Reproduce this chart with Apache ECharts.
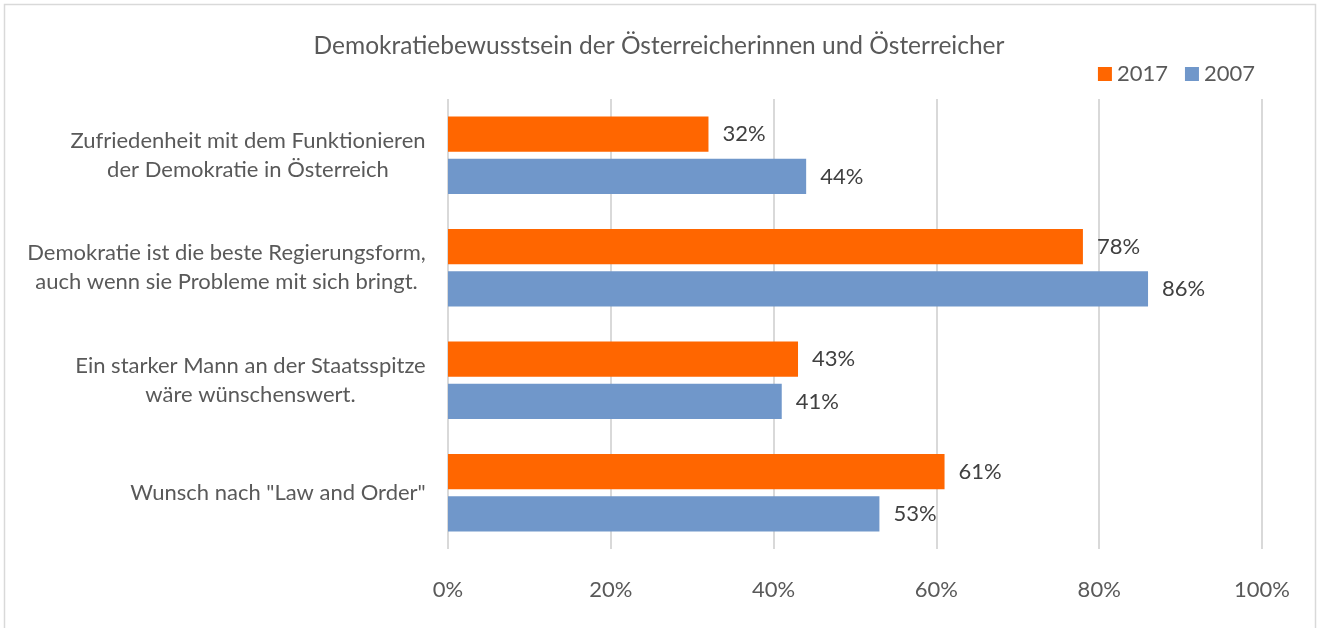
<!DOCTYPE html>
<html lang="de">
<head>
    <meta charset="UTF-8">
    <title>Demokratiebewusstsein</title>
    <script src="https://cdn.jsdelivr.net/npm/echarts@6/dist/echarts.min.js"></script>
    <style>
        body { margin: 0; background: #fff; }
    </style>
</head>
<body>
    <div id="ec" style="width:1318px;height:628px"></div>
</body>
<script>
    var categories = [
        'Zufriedenheit mit dem Funktionieren\nder Demokratie in Österreich',
        'Demokratie ist die beste Regierungsform,\nauch wenn sie Probleme mit sich bringt.',
        'Ein starker Mann an der Staatsspitze\nwäre wünschenswert.',
        'Wunsch nach "Law and Order"'
    ]
    var values2017 = [32, 78, 43, 61]
    var values2007 = [44, 86, 41, 53]
    var xTicks = [0, 20, 40, 60, 80, 100]

    var fontFamily = 'Lato, "Open Sans", sans-serif'
    var textColor = '#595959'
    var fs = 22

    // each label is centered on its own widest line, like the original
    var ctx = document.createElement('canvas').getContext('2d')
    ctx.font = fs + 'px ' + fontFamily
    var rich = {}
    categories.forEach(function (c, i) {
        var w = 0
        c.split('\n').forEach(function (line) {
            w = Math.max(w, ctx.measureText(line).width)
        })
        rich['c' + i] = { width: Math.ceil(w), align: 'center', fontSize: fs, lineHeight: 29, color: textColor, fontFamily: fontFamily }
    })

    var mychart = echarts.init(document.getElementById('ec'))
    var options = {
        animation: false,
        textStyle: { fontFamily: fontFamily },
        title: {
            text: 'Demokratiebewusstsein der Österreicherinnen und Österreicher',
            left: 'center',
            top: 29,
            textStyle: { fontSize: 24.5, fontWeight: 'normal', color: textColor, fontFamily: fontFamily }
        },
        legend: {
            right: 58,
            top: 58,
            itemWidth: 14,
            itemHeight: 14,
            itemGap: 17,
            textStyle: { fontSize: fs, color: textColor },
            data: [
                { name: '2017', icon: 'rect' },
                { name: '2007', icon: 'rect' }
            ]
        },
        graphic: [{
            type: 'rect',
            shape: { x: 4.5, y: 4.5, width: 1311, height: 640 },
            style: { fill: 'none', stroke: '#D9D9D9', lineWidth: 1.5 },
            silent: true
        }],
        grid: { left: 448, right: 56, top: 99, bottom: 79 },
        xAxis: {
            type: 'value',
            min: xTicks[0],
            max: xTicks[xTicks.length - 1],
            interval: xTicks[1] - xTicks[0],
            axisLine: { show: false },
            axisTick: { show: false },
            splitLine: { lineStyle: { color: '#D9D9D9', width: 2 } },
            axisLabel: { formatter: '{value}%', fontSize: fs, color: textColor, margin: 30 }
        },
        yAxis: {
            type: 'category',
            inverse: true,
            data: categories,
            axisLine: { show: false },
            axisTick: { show: false },
            axisLabel: {
                margin: 22,
                formatter: function (v, i) {
                    return v.split('\n').map(function (line) {
                        return '{c' + i + '|' + line + '}'
                    }).join('\n')
                },
                rich: rich
            }
        },
        series: [
            {
                name: '2017',
                type: 'bar',
                data: values2017,
                barGap: '20%',
                barCategoryGap: '31%',
                itemStyle: { color: '#FF6600' },
                label: { show: true, position: 'right', distance: 14, formatter: '{c}%', fontSize: fs, color: '#404040' }
            },
            {
                name: '2007',
                type: 'bar',
                data: values2007,
                barGap: '20%',
                barCategoryGap: '31%',
                itemStyle: { color: '#7097CA' },
                label: { show: true, position: 'right', distance: 14, formatter: '{c}%', fontSize: fs, color: '#404040' }
            }
        ]
    }

    mychart.setOption(options)
</script>
</html>
